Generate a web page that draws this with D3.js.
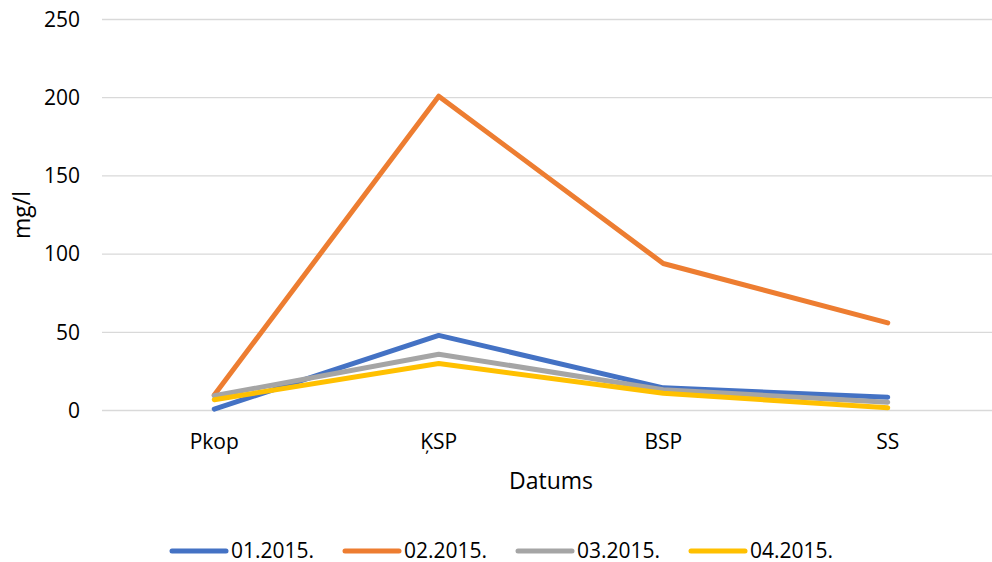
<!DOCTYPE html>
<html>
<head>
<meta charset="utf-8">
<title>mg/l</title>
<script src="https://d3js.org/d3.v7.min.js"></script>
<style>
  body { margin: 0; background: #fff; }
  text { font-family: "Open Sans", "Liberation Sans", sans-serif; fill: #000; }
</style>
</head>
<body>
<div id="viz"></div>
<script>
// data
var categories = ["Pkop", "ĶSP", "BSP", "SS"];
var seriesNames = ["01.2015.", "02.2015.", "03.2015.", "04.2015."];
var s01 = [0.9, 48, 14.5, 8.5];
var s02 = [9.9, 201, 94, 56];
var s03 = [9.4, 36, 13.3, 5.3];
var s04 = [6.9, 30, 11, 1.7];
var yTicks = [0, 50, 100, 150, 200, 250];
var colors = ["#4472C4", "#ED7D31", "#A5A5A5", "#FFC000"];

var series = [s01, s02, s03, s04].map(function(v, i) {
  return { name: seriesNames[i], values: v, color: colors[i] };
});

var W = 992, H = 562;
var margin = {top: 19.5, left: 102};
var width = 898,
    height = 391;

var svg = d3.select("#viz").append("svg")
    .attr("width", W).attr("height", H);
var g = svg.append("g")
    .attr("transform", "translate(" + margin.left + "," + margin.top + ")");

var x = d3.scalePoint().domain(categories).range([0, width]).padding(0.5);
var y = d3.scaleLinear().domain([0, 250]).range([height, 0]);

// gridlines
g.selectAll(".grid").data(yTicks).enter().append("line")
  .attr("x1", 0).attr("x2", width)
  .attr("y1", function(d) { return y(d); })
  .attr("y2", function(d) { return y(d); })
  .attr("stroke", "#d9d9d9").attr("stroke-width", 1.3);

// y tick labels
g.selectAll(".ylab").data(yTicks).enter().append("text")
  .attr("x", -22).attr("y", function(d) { return y(d); })
  .attr("dy", "0.35em").attr("text-anchor", "end")
  .style("font-size", "21px")
  .text(function(d) { return d; });

// x labels
g.selectAll(".xlab").data(categories).enter().append("text")
  .attr("x", function(d) { return x(d); })
  .attr("y", height + 31)
  .attr("dy", "0.35em")
  .attr("text-anchor", "middle")
  .style("font-size", "21px")
  .text(function(d) { return d; });

// axis titles
svg.append("text")
  .attr("x", 551).attr("y", 480.5).attr("dy", "0.35em")
  .attr("text-anchor", "middle").style("font-size", "23px")
  .text("Datums");
svg.append("text")
  .attr("transform", "translate(22," + (margin.top + height / 2) + ") rotate(-90)")
  .attr("dy", "0.35em")
  .attr("text-anchor", "middle").style("font-size", "23px")
  .text("mg/l");

// lines
var line = d3.line()
  .x(function(d, i) { return x(categories[i]); })
  .y(function(d) { return y(d); });

g.selectAll(".series").data(series).enter().append("path")
  .attr("fill", "none")
  .attr("stroke", function(d) { return d.color; })
  .attr("stroke-width", 5)
  .attr("stroke-linecap", "round")
  .attr("stroke-linejoin", "round")
  .attr("d", function(d) { return line(d.values); });

// legend
var legendX = [172, 345, 518, 691];
var leg = svg.selectAll(".leg").data(series).enter().append("g")
  .attr("transform", function(d, i) { return "translate(" + legendX[i] + ",551)"; });
leg.append("line")
  .attr("x1", 0).attr("x2", 54)
  .attr("stroke", function(d) { return d.color; })
  .attr("stroke-width", 5).attr("stroke-linecap", "round");
leg.append("text")
  .attr("x", 59).attr("dy", "0.35em")
  .style("font-size", "21px")
  .text(function(d) { return d.name; });
</script>
</body>
</html>
